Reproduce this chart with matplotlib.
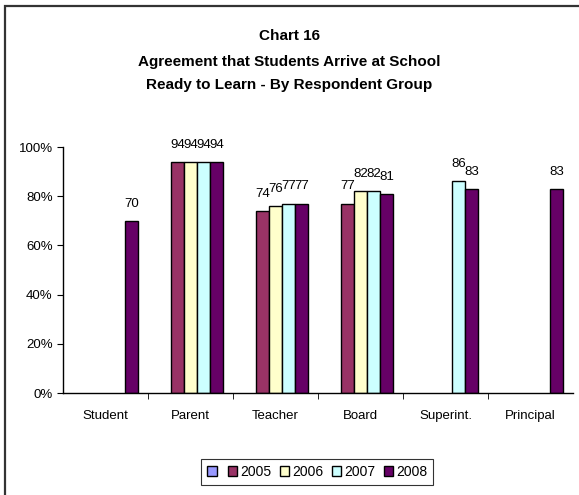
import numpy as np
import matplotlib
import matplotlib.pyplot as plt
from matplotlib.patches import Rectangle, Patch
from matplotlib.ticker import PercentFormatter

matplotlib.use('Agg')
plt.rcParams['font.family'] = ['Liberation Sans', 'DejaVu Sans']

groups = ['Student', 'Parent', 'Teacher', 'Board', 'Superint.', 'Principal']
series = ['', '2005', '2006', '2007', '2008']
colors = ['#9999FF', '#993366', '#FFFFCC', '#CCFFFF', '#660066']
# None = no bar for that year
blank = [None, None, None, None, None, None]
y2005 = [None, 94, 74, 77, None, None]
y2006 = [None, 94, 76, 82, None, None]
y2007 = [None, 94, 77, 82, 86, None]
y2008 = [70, 94, 77, 81, 83, 83]
values = [blank, y2005, y2006, y2007, y2008]

fig = plt.figure(figsize=(5.79, 4.95), dpi=100)
ax = fig.add_axes([0.1088, 0.206, 0.881, 0.497])

x = np.arange(len(groups))
w = 0.153
for i, (vals, col) in enumerate(zip(values, colors)):
    pos = x + (i - 2) * w
    h = [np.nan if v is None else v for v in vals]
    ax.bar(pos, h, width=w, color=col, edgecolor='black', linewidth=1.0)
    for px, v in zip(pos, vals):
        if v is not None:
            ax.annotate(f'{v}', (px, v), xytext=(0, 8), textcoords='offset points',
                        ha='center', va='bottom', fontsize=9.5)

ax.set_xlim(-0.5, len(groups) - 0.5)
ax.set_ylim(0, 100)
ax.set_yticks(np.arange(0, 101, 20))
ax.yaxis.set_major_formatter(PercentFormatter(decimals=0))
ax.set_xticks(x)
ax.set_xticklabels(groups, fontsize=9.5)
ax.set_xticks(np.arange(0.5, len(groups) - 1, 1), minor=True)
ax.tick_params(axis='x', which='major', length=0, pad=12)
ax.tick_params(axis='x', which='minor', length=4, direction='out')
ax.tick_params(axis='y', labelsize=9.5, length=4, direction='out')
for s in ['top', 'right']:
    ax.spines[s].set_visible(False)
ax.spines['left'].set_linewidth(1.0)
ax.spines['bottom'].set_linewidth(1.0)

fig.text(0.5, 1 - 36 / 495, 'Chart 16', ha='center', va='center', fontsize=11, fontweight='bold')
fig.text(0.5, 1 - 62 / 495, 'Agreement that Students Arrive at School', ha='center', va='center',
         fontsize=11, fontweight='bold')
fig.text(0.5, 1 - 85 / 495, 'Ready to Learn - By Respondent Group', ha='center', va='center',
         fontsize=11, fontweight='bold')

handles = [Patch(facecolor=c, edgecolor='black', linewidth=1.0) for c in colors]
leg = fig.legend(handles, series, loc='center', bbox_to_anchor=(317 / 579, 1 - 472 / 495), ncol=5,
                 fontsize=10, frameon=True, fancybox=False, edgecolor='black', handlelength=0.7,
                 handleheight=0.7, handletextpad=0.2, columnspacing=0.6, borderpad=0.45)
leg.get_frame().set_linewidth(0.8)

fig.patches.append(Rectangle((4.5 / 579, -0.1), 1.2, 1.1 - 6.5 / 495, transform=fig.transFigure,
                             fill=False, edgecolor='#333333', linewidth=1.6))

plt.savefig('out.png', dpi=100)
